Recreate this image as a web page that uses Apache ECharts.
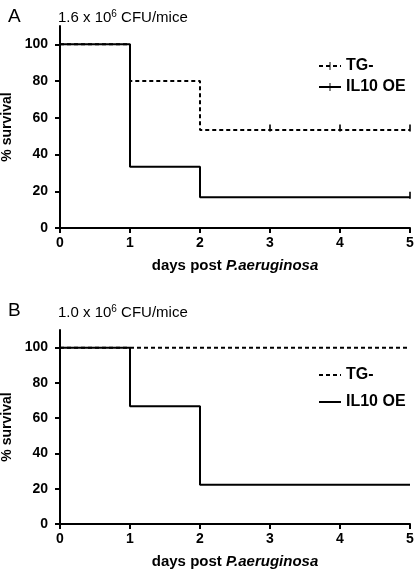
<!DOCTYPE html>
<html>
<head>
<meta charset="utf-8">
<script src="https://cdn.jsdelivr.net/npm/echarts@6/dist/echarts.min.js"></script>
<style>
html,body{margin:0;padding:0;background:#fff;}
#c{width:415px;height:572px;}
</style>
</head>
<body>
<div id="c"></div>
<script>
// ---- data ----
const stepDays = [0, 1, 2, 5];
const aTG = [100, 80, 53.3, 53.3];
const aIL10 = [100, 33.3, 16.7, 16.7];
const bTG = [100, 100, 100, 100];
const bIL10 = [100, 66.7, 22.2, 22.2];
const aTGCensorDays = [3, 4, 5];
const aTGCensorVals = [53.3, 53.3, 53.3];
const aIL10CensorDays = [5];
const aIL10CensorVals = [16.7];
const yTicks = [0, 20, 40, 60, 80, 100];
const xTicks = [0, 1, 2, 3, 4, 5];
const panelTitles = ['1.6 x 10{sup|6} CFU/mice', '1.0 x 10{sup|6} CFU/mice'];
const panelLetters = ['A', 'B'];
const seriesNames = ['TG-', 'IL10 OE'];

const FONT = 'Liberation Sans, Arial, Helvetica, sans-serif';
const pair = (xs, ys) => xs.map((x, i) => [x, ys[i]]);
// censor tick symbol; bounding box 10x10 with thin bar in centre
const tickSym = 'path://M0,0L10,0L10,0Z M4.4,0L5.6,0L5.6,10L4.4,10Z';

function xAxis(grid) {
  return {
    type: 'value', gridIndex: grid, min: 0, max: 5, interval: 1,
    name: '{a|days post }{b|P.aeruginosa}', nameLocation: 'middle', nameGap: 30,
    nameTextStyle: { rich: {
      a: { fontFamily: FONT, fontWeight: 'bold', fontSize: 15, color: '#000' },
      b: { fontFamily: FONT, fontWeight: 'bold', fontStyle: 'italic', fontSize: 15, color: '#000' } } },
    axisLine: { lineStyle: { color: '#000', width: 2 } },
    axisTick: { show: true, length: 5, lineStyle: { color: '#000', width: 2 }, customValues: xTicks },
    axisLabel: { color: '#000', fontFamily: FONT, fontWeight: 'bold', fontSize: 14, margin: 8, customValues: xTicks },
    splitLine: { show: false }
  };
}
function yAxis(grid) {
  return {
    type: 'value', gridIndex: grid, min: 0, max: 110, interval: 20,
    name: '% survival', nameLocation: 'middle', nameGap: 43, nameRotate: 90,
    nameTextStyle: { fontFamily: FONT, fontWeight: 'bold', fontSize: 14, color: '#000' },
    axisLine: { lineStyle: { color: '#000', width: 2 } },
    axisTick: { show: true, length: 5, lineStyle: { color: '#000', width: 2 }, customValues: yTicks },
    axisLabel: { color: '#000', fontFamily: FONT, fontWeight: 'bold', fontSize: 14, margin: 12, customValues: yTicks },
    splitLine: { show: false }
  };
}
function stepLine(name, grid, vals, dashed, sym) {
  return {
    type: 'line', name: name, xAxisIndex: grid, yAxisIndex: grid, step: 'end',
    data: pair(stepDays, vals), symbol: sym, symbolSize: 8, showSymbol: false,
    animation: false, silent: true,
    itemStyle: { color: '#000' },
    lineStyle: { color: '#000', width: 2, type: dashed ? [4, 3] : 'solid' }
  };
}
function censor(grid, xs, ys) {
  return {
    type: 'scatter', xAxisIndex: grid, yAxisIndex: grid, data: pair(xs, ys),
    symbol: 'rect', symbolSize: [2, 7], symbolOffset: [0, -2],
    itemStyle: { color: '#000' }, animation: false, silent: true, z: 5
  };
}

const titleRich = { sup: { fontFamily: FONT, fontSize: 10, color: '#000', verticalAlign: 'top', padding: [0, 0, 8, 0] } };
const option = {
  backgroundColor: '#fff',
  animation: false,
  title: [
    { text: panelLetters[0], left: 3, top: 2, textStyle: { fontFamily: FONT, fontWeight: 'normal', fontSize: 19, color: '#000' } },
    { text: panelTitles[0], left: 53, top: 4, textStyle: { fontFamily: FONT, fontWeight: 'normal', fontSize: 15, color: '#000', rich: titleRich } },
    { text: panelLetters[1], left: 3, top: 296, textStyle: { fontFamily: FONT, fontWeight: 'normal', fontSize: 19, color: '#000' } },
    { text: panelTitles[1], left: 53, top: 299, textStyle: { fontFamily: FONT, fontWeight: 'normal', fontSize: 15, color: '#000', rich: titleRich } }
  ],
  grid: [
    { left: 60, right: 5, top: 26, height: 202, outerBoundsMode: 'none', containLabel: false },
    { left: 60, right: 5, top: 330, height: 194, outerBoundsMode: 'none', containLabel: false }
  ],
  xAxis: [xAxis(0), xAxis(1)],
  yAxis: [yAxis(0), yAxis(1)],
  legend: [
    { data: seriesNames, orient: 'vertical', left: 313, top: 53, itemWidth: 22, itemHeight: 10, itemGap: 5,
      selectedMode: false,
      textStyle: { fontFamily: FONT, fontWeight: 'bold', fontSize: 16, color: '#000' } },
    { data: seriesNames.map(n => 'B ' + n), orient: 'vertical', left: 313, top: 362, itemWidth: 22, itemHeight: 10, itemGap: 11,
      selectedMode: false, formatter: n => n.replace(/^B /, ''),
      itemStyle: { opacity: 0 },
      textStyle: { fontFamily: FONT, fontWeight: 'bold', fontSize: 16, color: '#000' } }
  ],
  series: [
    stepLine(seriesNames[0], 0, aTG, true, tickSym),
    stepLine(seriesNames[1], 0, aIL10, false, tickSym),
    censor(0, aTGCensorDays, aTGCensorVals),
    censor(0, aIL10CensorDays, aIL10CensorVals),
    stepLine('B ' + seriesNames[0], 1, bTG, true, 'none'),
    stepLine('B ' + seriesNames[1], 1, bIL10, false, 'none')
  ]
};
const chart = echarts.init(document.getElementById('c'), null, { renderer: 'canvas' });
chart.setOption(option);
</script>
</body>
</html>
